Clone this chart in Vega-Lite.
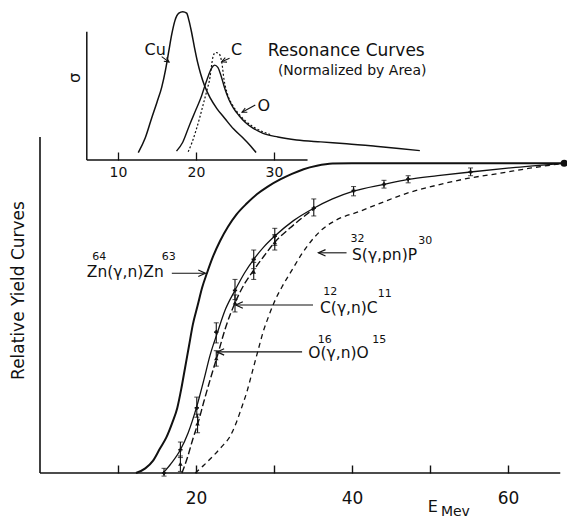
{
  "$schema": "https://vega.github.io/schema/vega-lite/v6.json",
  "width": 526.5,
  "height": 468,
  "autosize": {"type": "none"},
  "padding": {"left": 40, "top": 5, "right": 0, "bottom": 47},
  "background": "white",
  "config": {
    "view": {"stroke": null},
    "font": "DejaVu Sans",
    "axis": {"grid": false, "domainColor": "#111", "tickColor": "#111", "labelColor": "#111", "titleColor": "#111", "labelFont": "DejaVu Sans", "titleFont": "DejaVu Sans"},
    "text": {"font": "DejaVu Sans", "color": "#111"}
  },
  "datasets": {
    "mainAxes": [{"E": 0, "E2": 66.7, "y": 0, "y2": 0}, {"E": 0, "E2": 0, "y": 0, "y2": 1.085}],
    "zn": [
      {"E": 12.3, "y": 0}, {"E": 13.5, "y": 0.015}, {"E": 14.5, "y": 0.04}, {"E": 15.4, "y": 0.08}, {"E": 16.2, "y": 0.115},
      {"E": 17.0, "y": 0.165}, {"E": 17.6, "y": 0.21}, {"E": 18.1, "y": 0.27}, {"E": 18.6, "y": 0.34}, {"E": 19.1, "y": 0.41},
      {"E": 19.6, "y": 0.48}, {"E": 20.2, "y": 0.54}, {"E": 20.8, "y": 0.6}, {"E": 21.4, "y": 0.645}, {"E": 22.2, "y": 0.7},
      {"E": 23.1, "y": 0.75}, {"E": 24.1, "y": 0.795}, {"E": 25.2, "y": 0.835}, {"E": 26.5, "y": 0.87}, {"E": 27.8, "y": 0.9},
      {"E": 29.2, "y": 0.925}, {"E": 30.8, "y": 0.948}, {"E": 32.3, "y": 0.966}, {"E": 33.8, "y": 0.981}, {"E": 35.5, "y": 0.992},
      {"E": 37.5, "y": 0.999}, {"E": 40.0, "y": 1.0}, {"E": 67.2, "y": 1.0}
    ],
    "cCurve": [
      {"E": 15.8, "y": 0}, {"E": 16.8, "y": 0.03}, {"E": 18.0, "y": 0.075}, {"E": 19.0, "y": 0.13}, {"E": 20.1, "y": 0.215},
      {"E": 21.0, "y": 0.3}, {"E": 21.8, "y": 0.38}, {"E": 22.7, "y": 0.45}, {"E": 23.8, "y": 0.53}, {"E": 25.0, "y": 0.59},
      {"E": 26.2, "y": 0.645}, {"E": 27.4, "y": 0.69}, {"E": 28.7, "y": 0.73}, {"E": 30.1, "y": 0.765}, {"E": 32.5, "y": 0.815},
      {"E": 35.1, "y": 0.855}, {"E": 37.5, "y": 0.885}, {"E": 40.2, "y": 0.91}, {"E": 44.1, "y": 0.932}, {"E": 47.2, "y": 0.948},
      {"E": 51.0, "y": 0.96}, {"E": 55.2, "y": 0.972}, {"E": 61.0, "y": 0.987}, {"E": 67.2, "y": 1.0}
    ],
    "oCurve": [
      {"E": 18.2, "y": 0}, {"E": 18.9, "y": 0.05}, {"E": 19.6, "y": 0.11}, {"E": 20.3, "y": 0.165}, {"E": 21.0, "y": 0.23},
      {"E": 21.8, "y": 0.3}, {"E": 22.7, "y": 0.375}, {"E": 23.8, "y": 0.47}, {"E": 25.1, "y": 0.555}, {"E": 26.2, "y": 0.61},
      {"E": 27.4, "y": 0.655}, {"E": 28.7, "y": 0.7}, {"E": 30.1, "y": 0.745}, {"E": 32.0, "y": 0.79}, {"E": 35.1, "y": 0.853}
    ],
    "sCurve": [
      {"E": 19.9, "y": 0}, {"E": 21.0, "y": 0.025}, {"E": 22.2, "y": 0.055}, {"E": 23.3, "y": 0.085}, {"E": 24.4, "y": 0.12},
      {"E": 25.2, "y": 0.165}, {"E": 25.9, "y": 0.215}, {"E": 26.5, "y": 0.26}, {"E": 27.2, "y": 0.325}, {"E": 28.0, "y": 0.4},
      {"E": 28.6, "y": 0.455}, {"E": 29.3, "y": 0.505}, {"E": 30.0, "y": 0.55}, {"E": 31.0, "y": 0.6}, {"E": 32.3, "y": 0.655},
      {"E": 33.5, "y": 0.705}, {"E": 34.8, "y": 0.75}, {"E": 36.2, "y": 0.787}, {"E": 38.0, "y": 0.817}, {"E": 41.0, "y": 0.845},
      {"E": 44.0, "y": 0.875}, {"E": 47.0, "y": 0.903}, {"E": 51.0, "y": 0.93}, {"E": 55.0, "y": 0.952}, {"E": 59.0, "y": 0.968},
      {"E": 63.0, "y": 0.985}, {"E": 67.2, "y": 1.0}
    ],
    "points": [
      {"series": "C", "E": 15.9, "y": 0.0, "lo": -0.01, "hi": 0.015},
      {"series": "C", "E": 18.0, "y": 0.075, "lo": 0.05, "hi": 0.1},
      {"series": "C", "E": 20.1, "y": 0.21, "lo": 0.18, "hi": 0.245},
      {"series": "C", "E": 22.6, "y": 0.455, "lo": 0.42, "hi": 0.485},
      {"series": "C", "E": 25.0, "y": 0.59, "lo": 0.56, "hi": 0.625},
      {"series": "C", "E": 27.4, "y": 0.69, "lo": 0.66, "hi": 0.72},
      {"series": "C", "E": 30.1, "y": 0.765, "lo": 0.735, "hi": 0.79},
      {"series": "C", "E": 35.1, "y": 0.855, "lo": 0.83, "hi": 0.885},
      {"series": "C", "E": 40.2, "y": 0.912, "lo": 0.895, "hi": 0.925},
      {"series": "C", "E": 44.1, "y": 0.932, "lo": 0.92, "hi": 0.945},
      {"series": "C", "E": 47.2, "y": 0.949, "lo": 0.937, "hi": 0.96},
      {"series": "C", "E": 55.2, "y": 0.972, "lo": 0.96, "hi": 0.985},
      {"series": "O", "E": 18.0, "y": 0.03, "lo": 0.005, "hi": 0.055},
      {"series": "O", "E": 20.2, "y": 0.16, "lo": 0.13, "hi": 0.19},
      {"series": "O", "E": 22.6, "y": 0.37, "lo": 0.345, "hi": 0.395},
      {"series": "O", "E": 25.0, "y": 0.55, "lo": 0.52, "hi": 0.575},
      {"series": "O", "E": 27.4, "y": 0.65, "lo": 0.625, "hi": 0.68},
      {"series": "O", "E": 30.1, "y": 0.745, "lo": 0.72, "hi": 0.77}
    ],
    "endPoint": [{"E": 67.2, "y": 1.0}],
    "arrowsMain": [
      {"label": "Zn", "tail": 16.9, "head": 21.2, "y": 0.645},
      {"label": "S", "tail": 39.3, "head": 35.7, "y": 0.711},
      {"label": "C", "tail": 35.0, "head": 25.1, "y": 0.5425},
      {"label": "O", "tail": 33.6, "head": 22.7, "y": 0.391}
    ],
    "labelsMain": [
      {"text": "Zn(γ,n)Zn", "E": 6.0, "y": 0.634},
      {"text": "S(γ,pn)P", "E": 40.0, "y": 0.688},
      {"text": "C(γ,n)C", "E": 35.9, "y": 0.516},
      {"text": "O(γ,n)O", "E": 34.4, "y": 0.37}
    ],
    "supMain": [
      {"text": "64", "E": 6.7, "y": 0.687},
      {"text": "63", "E": 15.6, "y": 0.687},
      {"text": "32", "E": 39.8, "y": 0.747},
      {"text": "30", "E": 48.5, "y": 0.74},
      {"text": "12", "E": 36.3, "y": 0.575},
      {"text": "11", "E": 43.3, "y": 0.568},
      {"text": "16", "E": 35.6, "y": 0.42},
      {"text": "15", "E": 42.6, "y": 0.42}
    ],
    "axisText": [{"text": "E", "E": 49.7, "y": -0.11}, {"text": "Mev", "E": 51.4, "y": -0.127}],
    "insetAxes": [{"E": 6.0, "E2": 34.3, "s": 0, "s2": 0}, {"E": 6.0, "E2": 6.0, "s": 0, "s2": 0.865}],
    "cu": [
      {"E": 12.6, "s": 0.05}, {"E": 13.5, "s": 0.15}, {"E": 14.3, "s": 0.28}, {"E": 15.0, "s": 0.39}, {"E": 15.6, "s": 0.49},
      {"E": 16.1, "s": 0.61}, {"E": 16.5, "s": 0.73}, {"E": 16.9, "s": 0.85}, {"E": 17.3, "s": 0.94}, {"E": 17.8, "s": 0.99},
      {"E": 18.3, "s": 1.0}, {"E": 18.8, "s": 0.99}, {"E": 19.1, "s": 0.94}, {"E": 19.4, "s": 0.87}, {"E": 19.8, "s": 0.76},
      {"E": 20.2, "s": 0.66}, {"E": 20.6, "s": 0.58}, {"E": 21.1, "s": 0.5}, {"E": 21.8, "s": 0.42}, {"E": 22.7, "s": 0.345},
      {"E": 23.7, "s": 0.28}, {"E": 24.8, "s": 0.21}, {"E": 26.0, "s": 0.15}, {"E": 27.0, "s": 0.095}, {"E": 27.7, "s": 0.05}
    ],
    "oRes": [
      {"E": 17.5, "s": 0.06}, {"E": 18.3, "s": 0.12}, {"E": 19.2, "s": 0.24}, {"E": 20.0, "s": 0.34}, {"E": 20.7, "s": 0.43},
      {"E": 21.2, "s": 0.51}, {"E": 21.6, "s": 0.57}, {"E": 22.0, "s": 0.62}, {"E": 22.4, "s": 0.64}, {"E": 22.8, "s": 0.625},
      {"E": 23.2, "s": 0.57}, {"E": 23.7, "s": 0.48}, {"E": 24.2, "s": 0.41}, {"E": 24.8, "s": 0.35}, {"E": 25.5, "s": 0.3},
      {"E": 26.3, "s": 0.255}, {"E": 27.3, "s": 0.215}, {"E": 28.6, "s": 0.18}, {"E": 30.5, "s": 0.155}, {"E": 32.9, "s": 0.135},
      {"E": 36.0, "s": 0.122}, {"E": 39.3, "s": 0.11}, {"E": 43.0, "s": 0.093}, {"E": 46.0, "s": 0.078}, {"E": 48.7, "s": 0.063}
    ],
    "cRes": [
      {"E": 19.0, "s": 0.056}, {"E": 19.5, "s": 0.12}, {"E": 20.0, "s": 0.2}, {"E": 20.5, "s": 0.29}, {"E": 20.9, "s": 0.37},
      {"E": 21.4, "s": 0.47}, {"E": 21.8, "s": 0.56}, {"E": 22.0, "s": 0.64}, {"E": 22.2, "s": 0.7}, {"E": 22.5, "s": 0.725},
      {"E": 22.9, "s": 0.72}, {"E": 23.3, "s": 0.66}, {"E": 23.6, "s": 0.54}, {"E": 24.0, "s": 0.45}, {"E": 24.8, "s": 0.36},
      {"E": 25.5, "s": 0.31}, {"E": 26.3, "s": 0.265}, {"E": 27.3, "s": 0.225}, {"E": 28.6, "s": 0.19}, {"E": 29.5, "s": 0.172}
    ],
    "insetArrows": [
      {"label": "Cu", "E": 16.55, "s": 0.66, "E2": 15.6, "s2": 0.697},
      {"label": "C", "E": 23.3, "s": 0.663, "E2": 24.3, "s2": 0.686},
      {"label": "O", "E": 25.9, "s": 0.322, "E2": 27.6, "s2": 0.371}
    ],
    "insetLabels": [{"text": "Cu", "E": 13.4, "s": 0.708}, {"text": "C", "E": 24.5, "s": 0.708}, {"text": "O", "E": 27.9, "s": 0.33}],
    "insetTitle": [{"text": "Resonance Curves", "E": 29.2, "s": 0.701}],
    "insetSub": [{"text": "(Normalized by Area)", "E": 30.5, "s": 0.573}],
    "sigma": [{"text": "σ", "E": 4.5, "s": 0.553}]
  },
  "resolve": {"scale": {"y": "independent"}, "axis": {"x": "independent", "y": "independent"}},
  "layer": [
    {
      "data": {"name": "mainAxes"},
      "mark": {"type": "rule", "strokeWidth": 1.6, "color": "#111"},
      "encoding": {
        "x": {"field": "E", "type": "quantitative", "scale": {"domain": [0, 67.5], "nice": false, "zero": false},
          "axis": {"orient": "bottom", "values": [10, 20, 30, 40, 50, 60], "domain": false, "grid": false, "tickSize": -8, "tickWidth": 1.4,
            "labelExpr": "datum.value % 20 === 0 ? datum.label : ''", "labelFontSize": 17, "labelPadding": 25, "labelOverlap": false, "labelFlush": false, "title": null}},
        "x2": {"field": "E2"},
        "y": {"field": "y", "type": "quantitative", "scale": {"domain": [0, 1.5112], "nice": false, "zero": false},
          "axis": {"orient": "left", "domain": false, "ticks": false, "labels": false, "grid": false, "title": "Relative Yield Curves",
            "titleFontSize": 17, "titleFontWeight": "normal", "titleX": -22, "titleY": 285, "titleAngle": 270, "titleAlign": "center", "titleBaseline": "middle"}},
        "y2": {"field": "y2"}
      }
    },
    {
      "data": {"name": "insetAxes"},
      "mark": {"type": "rule", "strokeWidth": 1.5, "color": "#111"},
      "encoding": {
        "x": {"field": "E", "type": "quantitative", "scale": {"domain": [0, 67.5], "nice": false, "zero": false},
          "axis": {"orient": "bottom", "offset": -313, "values": [10, 20, 30], "domain": false, "grid": false, "tickSize": -8, "tickWidth": 1.3,
            "labelFontSize": 14, "labelPadding": 13, "labelOverlap": false, "labelFlush": false, "title": null}},
        "x2": {"field": "E2"},
        "y": {"field": "s", "type": "quantitative", "scale": {"domain": [-2.1106, 1.0452], "nice": false, "zero": false}, "axis": null},
        "y2": {"field": "s2"}
      }
    },
    {
      "data": {"name": "zn"},
      "mark": {"type": "line", "interpolate": "monotone", "strokeWidth": 2, "color": "#111"},
      "encoding": {
        "x": {"field": "E", "type": "quantitative", "scale": {"domain": [0, 67.5], "nice": false, "zero": false}, "axis": null},
        "y": {"field": "y", "type": "quantitative", "scale": {"domain": [0, 1.5112], "nice": false, "zero": false}, "axis": null}
      }
    },
    {
      "data": {"name": "cCurve"},
      "mark": {"type": "line", "interpolate": "monotone", "strokeWidth": 1.3, "color": "#111"},
      "encoding": {
        "x": {"field": "E", "type": "quantitative", "scale": {"domain": [0, 67.5], "nice": false, "zero": false}, "axis": null},
        "y": {"field": "y", "type": "quantitative", "scale": {"domain": [0, 1.5112], "nice": false, "zero": false}, "axis": null}
      }
    },
    {
      "data": {"name": "oCurve"},
      "mark": {"type": "line", "interpolate": "monotone", "strokeWidth": 1.4, "strokeDash": [7, 3], "color": "#111"},
      "encoding": {
        "x": {"field": "E", "type": "quantitative", "scale": {"domain": [0, 67.5], "nice": false, "zero": false}, "axis": null},
        "y": {"field": "y", "type": "quantitative", "scale": {"domain": [0, 1.5112], "nice": false, "zero": false}, "axis": null}
      }
    },
    {
      "data": {"name": "sCurve"},
      "mark": {"type": "line", "interpolate": "monotone", "strokeWidth": 1.3, "strokeDash": [5, 4], "color": "#111"},
      "encoding": {
        "x": {"field": "E", "type": "quantitative", "scale": {"domain": [0, 67.5], "nice": false, "zero": false}, "axis": null},
        "y": {"field": "y", "type": "quantitative", "scale": {"domain": [0, 1.5112], "nice": false, "zero": false}, "axis": null}
      }
    },
    {
      "data": {"name": "points"},
      "mark": {"type": "rule", "strokeWidth": 1.1, "color": "#111"},
      "encoding": {
        "x": {"field": "E", "type": "quantitative", "scale": {"domain": [0, 67.5], "nice": false, "zero": false}, "axis": null},
        "y": {"field": "lo", "type": "quantitative", "scale": {"domain": [0, 1.5112], "nice": false, "zero": false}, "axis": null},
        "y2": {"field": "hi"}
      }
    },
    {
      "data": {"name": "points"},
      "mark": {"type": "tick", "orient": "horizontal", "size": 5, "thickness": 1.1, "color": "#111"},
      "encoding": {
        "x": {"field": "E", "type": "quantitative", "scale": {"domain": [0, 67.5], "nice": false, "zero": false}, "axis": null},
        "y": {"field": "lo", "type": "quantitative", "scale": {"domain": [0, 1.5112], "nice": false, "zero": false}, "axis": null}
      }
    },
    {
      "data": {"name": "points"},
      "mark": {"type": "tick", "orient": "horizontal", "size": 5, "thickness": 1.1, "color": "#111"},
      "encoding": {
        "x": {"field": "E", "type": "quantitative", "scale": {"domain": [0, 67.5], "nice": false, "zero": false}, "axis": null},
        "y": {"field": "hi", "type": "quantitative", "scale": {"domain": [0, 1.5112], "nice": false, "zero": false}, "axis": null}
      }
    },
    {
      "data": {"name": "points"},
      "transform": [{"filter": "datum.series === 'C'"}],
      "mark": {"type": "point", "shape": "cross", "size": 18, "filled": true, "color": "#111", "opacity": 1},
      "encoding": {
        "x": {"field": "E", "type": "quantitative", "scale": {"domain": [0, 67.5], "nice": false, "zero": false}, "axis": null},
        "y": {"field": "y", "type": "quantitative", "scale": {"domain": [0, 1.5112], "nice": false, "zero": false}, "axis": null}
      }
    },
    {
      "data": {"name": "points"},
      "transform": [{"filter": "datum.series === 'O'"}],
      "mark": {"type": "point", "shape": "triangle-up", "size": 20, "filled": true, "color": "#111", "opacity": 1},
      "encoding": {
        "x": {"field": "E", "type": "quantitative", "scale": {"domain": [0, 67.5], "nice": false, "zero": false}, "axis": null},
        "y": {"field": "y", "type": "quantitative", "scale": {"domain": [0, 1.5112], "nice": false, "zero": false}, "axis": null}
      }
    },
    {
      "data": {"name": "endPoint"},
      "mark": {"type": "point", "shape": "circle", "size": 50, "filled": true, "color": "#111", "opacity": 1},
      "encoding": {
        "x": {"field": "E", "type": "quantitative", "scale": {"domain": [0, 67.5], "nice": false, "zero": false}, "axis": null},
        "y": {"field": "y", "type": "quantitative", "scale": {"domain": [0, 1.5112], "nice": false, "zero": false}, "axis": null}
      }
    },
    {
      "data": {"name": "arrowsMain"},
      "mark": {"type": "rule", "strokeWidth": 1.1, "color": "#111"},
      "encoding": {
        "x": {"field": "tail", "type": "quantitative", "scale": {"domain": [0, 67.5], "nice": false, "zero": false}, "axis": null},
        "x2": {"field": "head"},
        "y": {"field": "y", "type": "quantitative", "scale": {"domain": [0, 1.5112], "nice": false, "zero": false}, "axis": null}
      }
    },
    {
      "data": {"name": "arrowsMain"},
      "transform": [{"filter": "datum.label === 'Zn'"}],
      "mark": {"type": "point", "shape": "M -1 -0.45 L 0 0 L -1 0.45", "size": 200, "filled": false, "strokeWidth": 1.2, "color": "#111", "opacity": 1, "angle": 0},
      "encoding": {
        "x": {"field": "head", "type": "quantitative", "scale": {"domain": [0, 67.5], "nice": false, "zero": false}, "axis": null},
        "y": {"field": "y", "type": "quantitative", "scale": {"domain": [0, 1.5112], "nice": false, "zero": false}, "axis": null}
      }
    },
    {
      "data": {"name": "arrowsMain"},
      "transform": [{"filter": "datum.label !== 'Zn'"}],
      "mark": {"type": "point", "shape": "M -1 -0.45 L 0 0 L -1 0.45", "size": 200, "filled": false, "strokeWidth": 1.2, "color": "#111", "opacity": 1, "angle": 180},
      "encoding": {
        "x": {"field": "head", "type": "quantitative", "scale": {"domain": [0, 67.5], "nice": false, "zero": false}, "axis": null},
        "y": {"field": "y", "type": "quantitative", "scale": {"domain": [0, 1.5112], "nice": false, "zero": false}, "axis": null}
      }
    },
    {
      "data": {"name": "labelsMain"},
      "mark": {"type": "text", "align": "left", "baseline": "alphabetic", "fontSize": 15.5},
      "encoding": {
        "x": {"field": "E", "type": "quantitative", "scale": {"domain": [0, 67.5], "nice": false, "zero": false}, "axis": null},
        "y": {"field": "y", "type": "quantitative", "scale": {"domain": [0, 1.5112], "nice": false, "zero": false}, "axis": null},
        "text": {"field": "text"}
      }
    },
    {
      "data": {"name": "supMain"},
      "mark": {"type": "text", "align": "left", "baseline": "alphabetic", "fontSize": 11},
      "encoding": {
        "x": {"field": "E", "type": "quantitative", "scale": {"domain": [0, 67.5], "nice": false, "zero": false}, "axis": null},
        "y": {"field": "y", "type": "quantitative", "scale": {"domain": [0, 1.5112], "nice": false, "zero": false}, "axis": null},
        "text": {"field": "text"}
      }
    },
    {
      "data": {"name": "axisText"},
      "transform": [{"filter": "datum.text === 'E'"}],
      "mark": {"type": "text", "align": "left", "baseline": "middle", "fontSize": 16},
      "encoding": {
        "x": {"field": "E", "type": "quantitative", "scale": {"domain": [0, 67.5], "nice": false, "zero": false}, "axis": null},
        "y": {"field": "y", "type": "quantitative", "scale": {"domain": [0, 1.5112], "nice": false, "zero": false}, "axis": null},
        "text": {"field": "text"}
      }
    },
    {
      "data": {"name": "axisText"},
      "transform": [{"filter": "datum.text === 'Mev'"}],
      "mark": {"type": "text", "align": "left", "baseline": "middle", "fontSize": 14},
      "encoding": {
        "x": {"field": "E", "type": "quantitative", "scale": {"domain": [0, 67.5], "nice": false, "zero": false}, "axis": null},
        "y": {"field": "y", "type": "quantitative", "scale": {"domain": [0, 1.5112], "nice": false, "zero": false}, "axis": null},
        "text": {"field": "text"}
      }
    },
    {
      "data": {"name": "cu"},
      "mark": {"type": "line", "interpolate": "monotone", "strokeWidth": 1.5, "color": "#111"},
      "encoding": {
        "x": {"field": "E", "type": "quantitative", "scale": {"domain": [0, 67.5], "nice": false, "zero": false}, "axis": null},
        "y": {"field": "s", "type": "quantitative", "scale": {"domain": [-2.1106, 1.0452], "nice": false, "zero": false}, "axis": null}
      }
    },
    {
      "data": {"name": "oRes"},
      "mark": {"type": "line", "interpolate": "monotone", "strokeWidth": 1.4, "color": "#111"},
      "encoding": {
        "x": {"field": "E", "type": "quantitative", "scale": {"domain": [0, 67.5], "nice": false, "zero": false}, "axis": null},
        "y": {"field": "s", "type": "quantitative", "scale": {"domain": [-2.1106, 1.0452], "nice": false, "zero": false}, "axis": null}
      }
    },
    {
      "data": {"name": "cRes"},
      "mark": {"type": "line", "interpolate": "monotone", "strokeWidth": 1.2, "strokeDash": [2, 2], "color": "#111"},
      "encoding": {
        "x": {"field": "E", "type": "quantitative", "scale": {"domain": [0, 67.5], "nice": false, "zero": false}, "axis": null},
        "y": {"field": "s", "type": "quantitative", "scale": {"domain": [-2.1106, 1.0452], "nice": false, "zero": false}, "axis": null}
      }
    },
    {
      "data": {"name": "insetArrows"},
      "mark": {"type": "rule", "strokeWidth": 1.1, "color": "#111"},
      "encoding": {
        "x": {"field": "E2", "type": "quantitative", "scale": {"domain": [0, 67.5], "nice": false, "zero": false}, "axis": null},
        "x2": {"field": "E"},
        "y": {"field": "s2", "type": "quantitative", "scale": {"domain": [-2.1106, 1.0452], "nice": false, "zero": false}, "axis": null},
        "y2": {"field": "s"}
      }
    },
    {
      "data": {"name": "insetArrows"},
      "transform": [{"filter": "datum.label === 'Cu'"}],
      "mark": {"type": "point", "shape": "M -1 -0.5 L 0 0 L -1 0.5", "size": 90, "filled": false, "strokeWidth": 1.1, "color": "#111", "opacity": 1, "angle": 36},
      "encoding": {
        "x": {"field": "E", "type": "quantitative", "scale": {"domain": [0, 67.5], "nice": false, "zero": false}, "axis": null},
        "y": {"field": "s", "type": "quantitative", "scale": {"domain": [-2.1106, 1.0452], "nice": false, "zero": false}, "axis": null}
      }
    },
    {
      "data": {"name": "insetArrows"},
      "transform": [{"filter": "datum.label === 'C'"}],
      "mark": {"type": "point", "shape": "M -1 -0.5 L 0 0 L -1 0.5", "size": 90, "filled": false, "strokeWidth": 1.1, "color": "#111", "opacity": 1, "angle": 158},
      "encoding": {
        "x": {"field": "E", "type": "quantitative", "scale": {"domain": [0, 67.5], "nice": false, "zero": false}, "axis": null},
        "y": {"field": "s", "type": "quantitative", "scale": {"domain": [-2.1106, 1.0452], "nice": false, "zero": false}, "axis": null}
      }
    },
    {
      "data": {"name": "insetArrows"},
      "transform": [{"filter": "datum.label === 'O'"}],
      "mark": {"type": "point", "shape": "M -1 -0.5 L 0 0 L -1 0.5", "size": 90, "filled": false, "strokeWidth": 1.1, "color": "#111", "opacity": 1, "angle": 154},
      "encoding": {
        "x": {"field": "E", "type": "quantitative", "scale": {"domain": [0, 67.5], "nice": false, "zero": false}, "axis": null},
        "y": {"field": "s", "type": "quantitative", "scale": {"domain": [-2.1106, 1.0452], "nice": false, "zero": false}, "axis": null}
      }
    },
    {
      "data": {"name": "insetLabels"},
      "mark": {"type": "text", "align": "left", "baseline": "alphabetic", "fontSize": 16},
      "encoding": {
        "x": {"field": "E", "type": "quantitative", "scale": {"domain": [0, 67.5], "nice": false, "zero": false}, "axis": null},
        "y": {"field": "s", "type": "quantitative", "scale": {"domain": [-2.1106, 1.0452], "nice": false, "zero": false}, "axis": null},
        "text": {"field": "text"}
      }
    },
    {
      "data": {"name": "insetTitle"},
      "mark": {"type": "text", "align": "left", "baseline": "alphabetic", "fontSize": 17},
      "encoding": {
        "x": {"field": "E", "type": "quantitative", "scale": {"domain": [0, 67.5], "nice": false, "zero": false}, "axis": null},
        "y": {"field": "s", "type": "quantitative", "scale": {"domain": [-2.1106, 1.0452], "nice": false, "zero": false}, "axis": null},
        "text": {"field": "text"}
      }
    },
    {
      "data": {"name": "insetSub"},
      "mark": {"type": "text", "align": "left", "baseline": "alphabetic", "fontSize": 14},
      "encoding": {
        "x": {"field": "E", "type": "quantitative", "scale": {"domain": [0, 67.5], "nice": false, "zero": false}, "axis": null},
        "y": {"field": "s", "type": "quantitative", "scale": {"domain": [-2.1106, 1.0452], "nice": false, "zero": false}, "axis": null},
        "text": {"field": "text"}
      }
    },
    {
      "data": {"name": "sigma"},
      "mark": {"type": "text", "align": "center", "baseline": "middle", "fontSize": 16, "angle": 270},
      "encoding": {
        "x": {"field": "E", "type": "quantitative", "scale": {"domain": [0, 67.5], "nice": false, "zero": false}, "axis": null},
        "y": {"field": "s", "type": "quantitative", "scale": {"domain": [-2.1106, 1.0452], "nice": false, "zero": false}, "axis": null},
        "text": {"field": "text"}
      }
    }
  ]
}
